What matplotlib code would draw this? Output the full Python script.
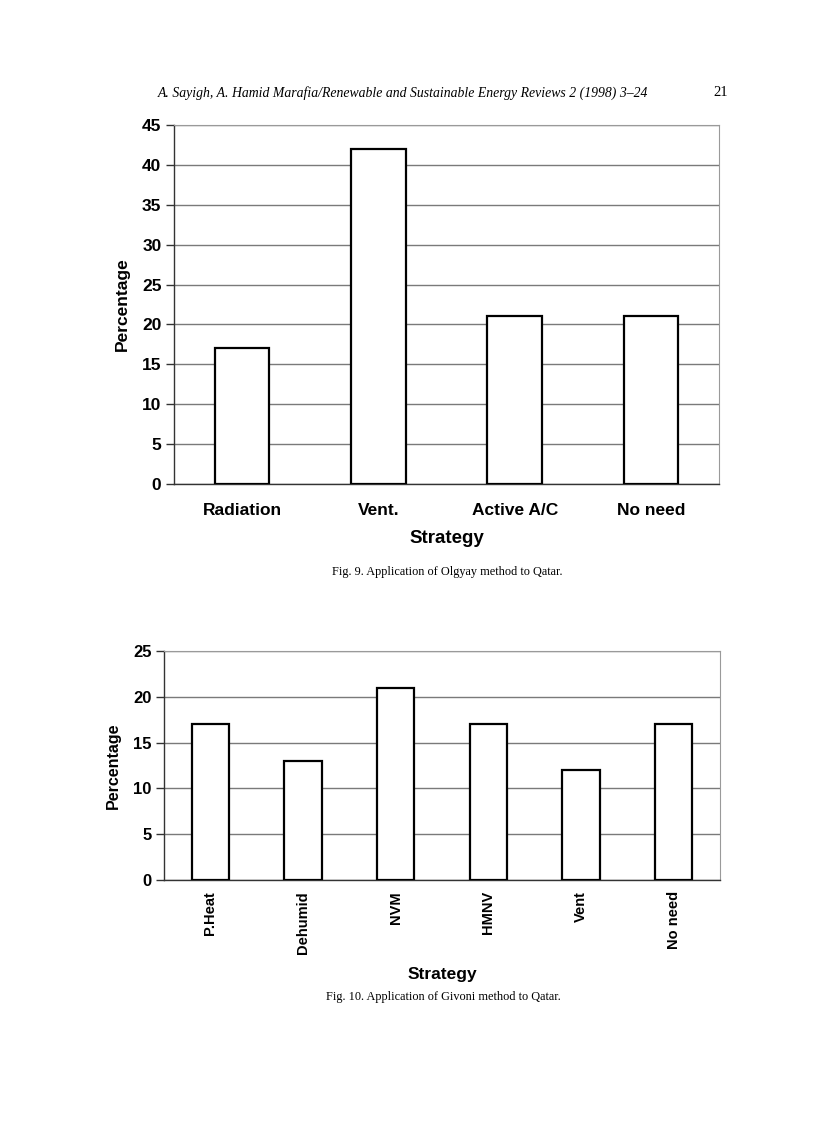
import matplotlib
matplotlib.use("Agg")
import matplotlib.pyplot as plt
import numpy as np

# Fig. 9 (Olgyay)
olgyay_labels = ["Radiation", "Vent.", "Active A/C", "No need"]
olgyay_values = [17, 42, 21, 21]
olgyay_ticks = [0, 5, 10, 15, 20, 25, 30, 35, 40, 45]

# Fig. 10 (Givoni)
givoni_labels = ["P.Heat", "Dehumid", "NVM", "HMNV", "Vent", "No need"]
givoni_values = [17, 13, 21, 17, 12, 17]
givoni_ticks = [0, 5, 10, 15, 20, 25]

W, H = 816, 1123
SANS = "Liberation Sans"
SERIF = "Liberation Serif"


def px_axes(fig, left, top, right, bottom):
    return fig.add_axes([left / W, 1 - bottom / H, (right - left) / W, (bottom - top) / H])


def style_axes(ax, ticks, tick_size):
    ax.set_ylim(ticks[0], ticks[-1])
    ax.set_yticks(ticks)
    ax.yaxis.grid(True, color="#7a7a7a", lw=1.0)
    ax.set_axisbelow(True)
    for s in ["top", "right"]:
        ax.spines[s].set_color("#9a9a9a")
        ax.spines[s].set_linewidth(0.8)
    for s in ["left", "bottom"]:
        ax.spines[s].set_color("#333333")
        ax.spines[s].set_linewidth(1.0)
    ax.tick_params(axis="y", length=6, width=1.0, color="#333333", pad=3,
                   labelsize=tick_size)
    ax.tick_params(axis="x", length=0)
    for t in ax.get_yticklabels():
        t.set_fontfamily(SANS)
        t.set_fontweight("bold")


fig = plt.figure(figsize=(W / 100, H / 100), dpi=100)

# header
fig.text(158 / W, 1 - 93 / H,
         "A. Sayigh, A. Hamid Marafia/Renewable and Sustainable Energy Reviews 2 (1998) 3\u201324",
         family=SERIF, style="italic", fontsize=9.9, va="center", ha="left")
fig.text(728 / W, 1 - 93 / H, "21", family=SERIF, fontsize=10.5, va="center", ha="right")

# top chart
ax1 = px_axes(fig, 174, 125, 719, 484)
x1 = np.arange(len(olgyay_labels))
ax1.bar(x1, olgyay_values, width=0.40, color="white", edgecolor="black", lw=1.6, zorder=3)
ax1.set_xlim(-0.5, len(olgyay_labels) - 0.5)
style_axes(ax1, olgyay_ticks, 12.5)
ax1.set_xticks(x1)
ax1.set_xticklabels(olgyay_labels, family=SANS, fontweight="bold", fontsize=12.5)
ax1.tick_params(axis="x", pad=14)
ax1.set_xlabel("Strategy", family=SANS, fontweight="bold", fontsize=13.5, labelpad=8)
ax1.set_ylabel("Percentage", family=SANS, fontweight="bold", fontsize=12.5, labelpad=9)

fig.text(447 / W, 1 - 572 / H, "Fig. 9. Application of Olgyay method to Qatar.",
         family=SERIF, fontsize=8.8, va="center", ha="center")

# bottom chart
ax2 = px_axes(fig, 164, 651, 720, 880)
x2 = np.arange(len(givoni_labels))
ax2.bar(x2, givoni_values, width=0.40, color="white", edgecolor="black", lw=1.6, zorder=3)
ax2.set_xlim(-0.5, len(givoni_labels) - 0.5)
style_axes(ax2, givoni_ticks, 12)
ax2.set_xticks(x2)
ax2.set_xticklabels(givoni_labels, family=SANS, fontweight="bold", fontsize=10.5,
                    rotation=90)
ax2.tick_params(axis="x", pad=8)
ax2.set_xlabel("Strategy", family=SANS, fontweight="bold", fontsize=12.5, labelpad=9.5)
ax2.set_ylabel("Percentage", family=SANS, fontweight="bold", fontsize=11.5, labelpad=9)

fig.text(443 / W, 1 - 997 / H, "Fig. 10. Application of Givoni method to Qatar.",
         family=SERIF, fontsize=8.8, va="center", ha="center")

fig.savefig("out.png", dpi=100)
